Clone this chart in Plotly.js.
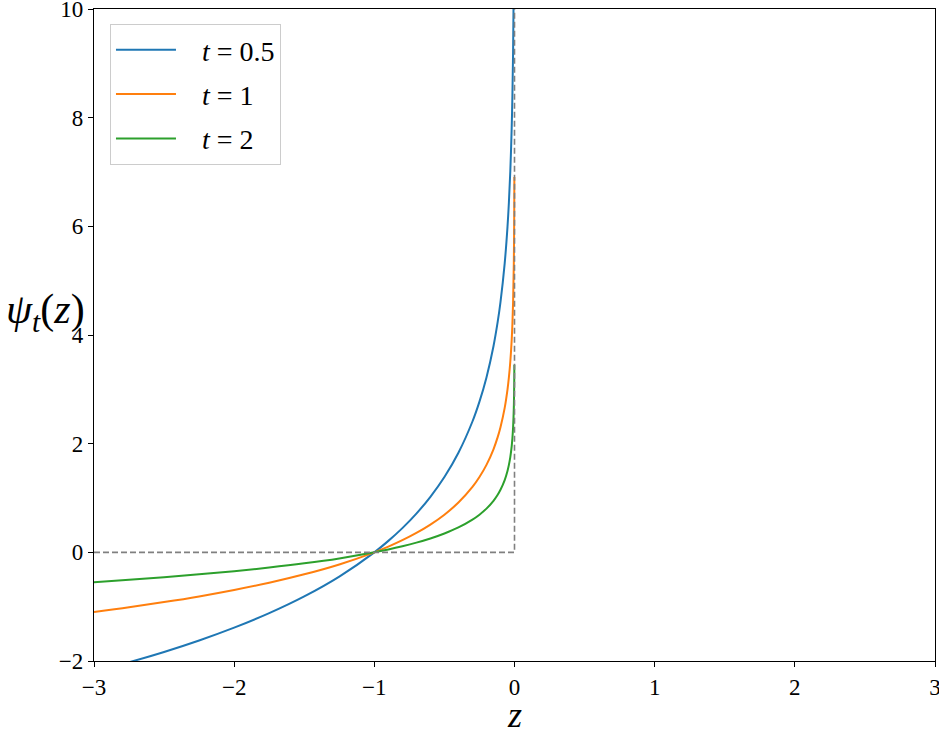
<!DOCTYPE html>
<html>
<head>
<meta charset="utf-8">
<script src="https://cdn.plot.ly/plotly-3.0.1.min.js"></script>
<style>
  html, body { margin: 0; padding: 0; background: #fff; }
  #chart { width: 939px; height: 731px; }
</style>
</head>
<body>
<div id="chart"></div>
<script>
// z values sampled along the curves (denser near z = 0)
var zVals = [-3, -2.75, -2.5, -2.25, -2, -1.75, -1.5, -1.25, -1, -0.9, -0.8, -0.7, -0.6, -0.5,
  -0.4, -0.3, -0.25, -0.2, -0.15, -0.12, -0.1, -0.07, -0.05, -0.04, -0.03, -0.02, -0.015,
  -0.01, -0.005, -0.002, -0.001];

var psiHalf = [-2.197, -2.023, -1.833, -1.622, -1.386, -1.119, -0.811, -0.446, 0, 0.211, 0.446,
  0.713, 1.022, 1.386, 1.833, 2.408, 2.773, 3.219, 3.794, 4.241, 4.605, 5.319, 5.991, 6.438,
  7.013, 7.824, 8.399, 9.210, 10.597, 12.429, 13.816];

var psiOne = [-1.099, -1.012, -0.916, -0.811, -0.693, -0.560, -0.405, -0.223, 0, 0.105, 0.223,
  0.357, 0.511, 0.693, 0.916, 1.204, 1.386, 1.609, 1.897, 2.120, 2.303, 2.659, 2.996, 3.219,
  3.507, 3.912, 4.200, 4.605, 5.298, 6.215, 6.908];

var psiTwo = [-0.549, -0.506, -0.458, -0.405, -0.347, -0.280, -0.203, -0.112, 0, 0.053, 0.112,
  0.178, 0.255, 0.347, 0.458, 0.602, 0.693, 0.805, 0.949, 1.060, 1.151, 1.330, 1.498, 1.609,
  1.753, 1.956, 2.100, 2.303, 2.649, 3.107, 3.454];

// reference dashed path
var refX = [-3, 0, 0];
var refY = [0, 0, 10];

var serif = "'Liberation Serif', 'DejaVu Serif', serif";
var pad = '&nbsp;&nbsp;&nbsp;';

var data = [
  { x: zVals, y: psiHalf, type: 'scatter', mode: 'lines', name: pad + '<i>t</i> = 0.5', legendgroup: 'a',
    line: { color: '#1f77b4', width: 2, shape: 'spline', smoothing: 1 } },
  { x: zVals, y: psiOne, type: 'scatter', mode: 'lines', name: pad + '<i>t</i> = 1', legendgroup: 'b',
    line: { color: '#ff7f0e', width: 2, shape: 'spline', smoothing: 1 } },
  { x: zVals, y: psiTwo, type: 'scatter', mode: 'lines', name: pad + '<i>t</i> = 2', legendgroup: 'c',
    line: { color: '#2ca02c', width: 2, shape: 'spline', smoothing: 1 } },
  { x: refX, y: refY, type: 'scatter', mode: 'lines', showlegend: false,
    line: { color: '#808080', width: 1.6, dash: '6px,3px' } }
];

var axisCommon = {
  showgrid: false,
  zeroline: false,
  showline: true,
  mirror: true,
  linecolor: '#000',
  linewidth: 1.2,
  ticks: 'outside',
  ticklen: 5,
  tickwidth: 1,
  tickcolor: '#000',
  ticklabeloverflow: 'allow',
  tickfont: { family: serif, size: 23, color: '#000' }
};

var layout = {
  width: 939,
  height: 731,
  margin: { l: 94, r: 4, t: 9, b: 70 },
  paper_bgcolor: '#fff',
  plot_bgcolor: '#fff',
  showlegend: true,
  xaxis: Object.assign({}, axisCommon, { range: [-3, 3], tickvals: [-3, -2, -1, 0, 1, 2, 3] }),
  yaxis: Object.assign({}, axisCommon, { range: [-2, 10], tickvals: [-2, 0, 2, 4, 6, 8, 10] }),
  legend: {
    x: 0.019, y: 0.977, xanchor: 'left', yanchor: 'top',
    bgcolor: '#fff', bordercolor: '#cccccc', borderwidth: 1,
    font: { family: serif, size: 28, color: '#000' },
    traceorder: 'grouped', tracegroupgap: 5,
    itemwidth: 60
  },
  annotations: [
    { text: '<i>ψ</i><sub><i>t</i></sub>(<i>z</i>)', xref: 'paper', yref: 'paper',
      x: -0.058, y: 0.535, xanchor: 'center', yanchor: 'middle', showarrow: false,
      font: { family: serif, size: 42, color: '#000' } },
    { text: '<i>z</i>', xref: 'paper', yref: 'paper',
      x: 0.5, y: -0.083, xanchor: 'center', yanchor: 'middle', showarrow: false,
      font: { family: serif, size: 36, color: '#000' } }
  ]
};

Plotly.newPlot('chart', data, layout, { displayModeBar: false, staticPlot: true });
</script>
</body>
</html>
